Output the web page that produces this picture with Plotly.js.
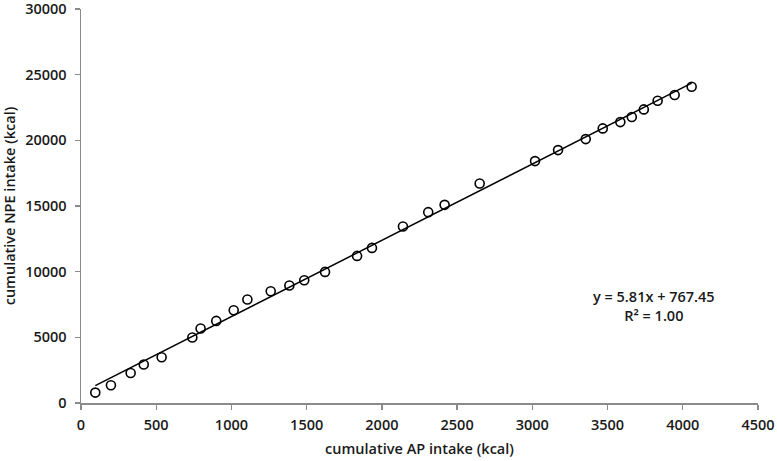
<!DOCTYPE html>
<html>
<head>
<meta charset="utf-8">
<script src="https://cdn.plot.ly/plotly-3.0.1.min.js"></script>
<style>html,body{margin:0;padding:0;background:#fff;}#chart{width:777px;height:461px;}</style>
</head>
<body>
<div id="chart"></div>
<script>
// cumulative AP intake (kcal)
const apIntake = [95, 199, 330, 417, 536, 740, 795, 899, 1015, 1106,
  1261, 1385, 1484, 1622, 1835, 1934, 2140, 2308, 2417, 2650,
  3018, 3171, 3355, 3468, 3585, 3661, 3741, 3833, 3946, 4059];
// cumulative NPE intake (kcal)
const npeIntake = [790, 1349, 2286, 2926, 3482, 4983, 5669, 6250, 7064, 7879,
  8512, 8946, 9350, 9983, 11202, 11811, 13441, 14532, 15088, 16718,
  18418, 19256, 20094, 20910, 21390, 21771, 22357, 23013, 23448, 24080];
// linear trendline as printed on the chart
const trendSlope = 5.81;
const trendIntercept = 767.45;
const trendLabel = "y = 5.81x + 767.45<br>R² = 1.00";
const xTicks = [0, 500, 1000, 1500, 2000, 2500, 3000, 3500, 4000, 4500];
const yTicks = [0, 5000, 10000, 15000, 20000, 25000, 30000];

const xMin = Math.min(...apIntake), xMax = Math.max(...apIntake);
const trendX = [xMin, xMax];
const trendY = trendX.map(v => trendSlope * v + trendIntercept);

const font = {family: "Open Sans, sans-serif", size: 14.5, color: "#1a1a1a", weight: 600};

const data = [
  {x: trendX, y: trendY, type: "scatter", mode: "lines",
   line: {color: "#000", width: 1.5}, hoverinfo: "skip"},
  {x: apIntake, y: npeIntake, type: "scatter", mode: "markers",
   marker: {symbol: "circle-open", size: 9, color: "#000", line: {width: 1.6, color: "#000"}}}
];

const layout = {
  width: 777, height: 461,
  margin: {l: 81, r: 19, t: 9, b: 58},
  paper_bgcolor: "#fff", plot_bgcolor: "#fff",
  showlegend: false,
  font: font,
  xaxis: {
    range: [0, 4500], tickvals: xTicks, ticktext: xTicks.map(String),
    showgrid: false, zeroline: false, showline: true, linecolor: "#8a8a8a", linewidth: 1.5,
    ticks: "outside", ticklen: 5, tickcolor: "#8a8a8a", tickwidth: 1.3,
    tickfont: font, ticklabeloverflow: "allow", ticklabelstandoff: 3,
    title: {text: "cumulative AP intake (kcal)", font: font, standoff: 11}
  },
  yaxis: {
    range: [0, 30000], tickvals: yTicks, ticktext: yTicks.map(String),
    showgrid: false, zeroline: false, showline: true, linecolor: "#8a8a8a", linewidth: 1.5,
    ticks: "outside", ticklen: 5, tickcolor: "#8a8a8a", tickwidth: 1.3,
    tickfont: font, ticklabeloverflow: "allow", ticklabelstandoff: 5,
    title: {text: "cumulative NPE intake (kcal)", font: font, standoff: 8}
  },
  annotations: [{
    x: 3810, y: 7350, xref: "x", yref: "y", text: trendLabel, showarrow: false,
    font: font, align: "center"
  }]
};

Plotly.newPlot("chart", data, layout, {displayModeBar: false, staticPlot: true});
</script>
</body>
</html>
